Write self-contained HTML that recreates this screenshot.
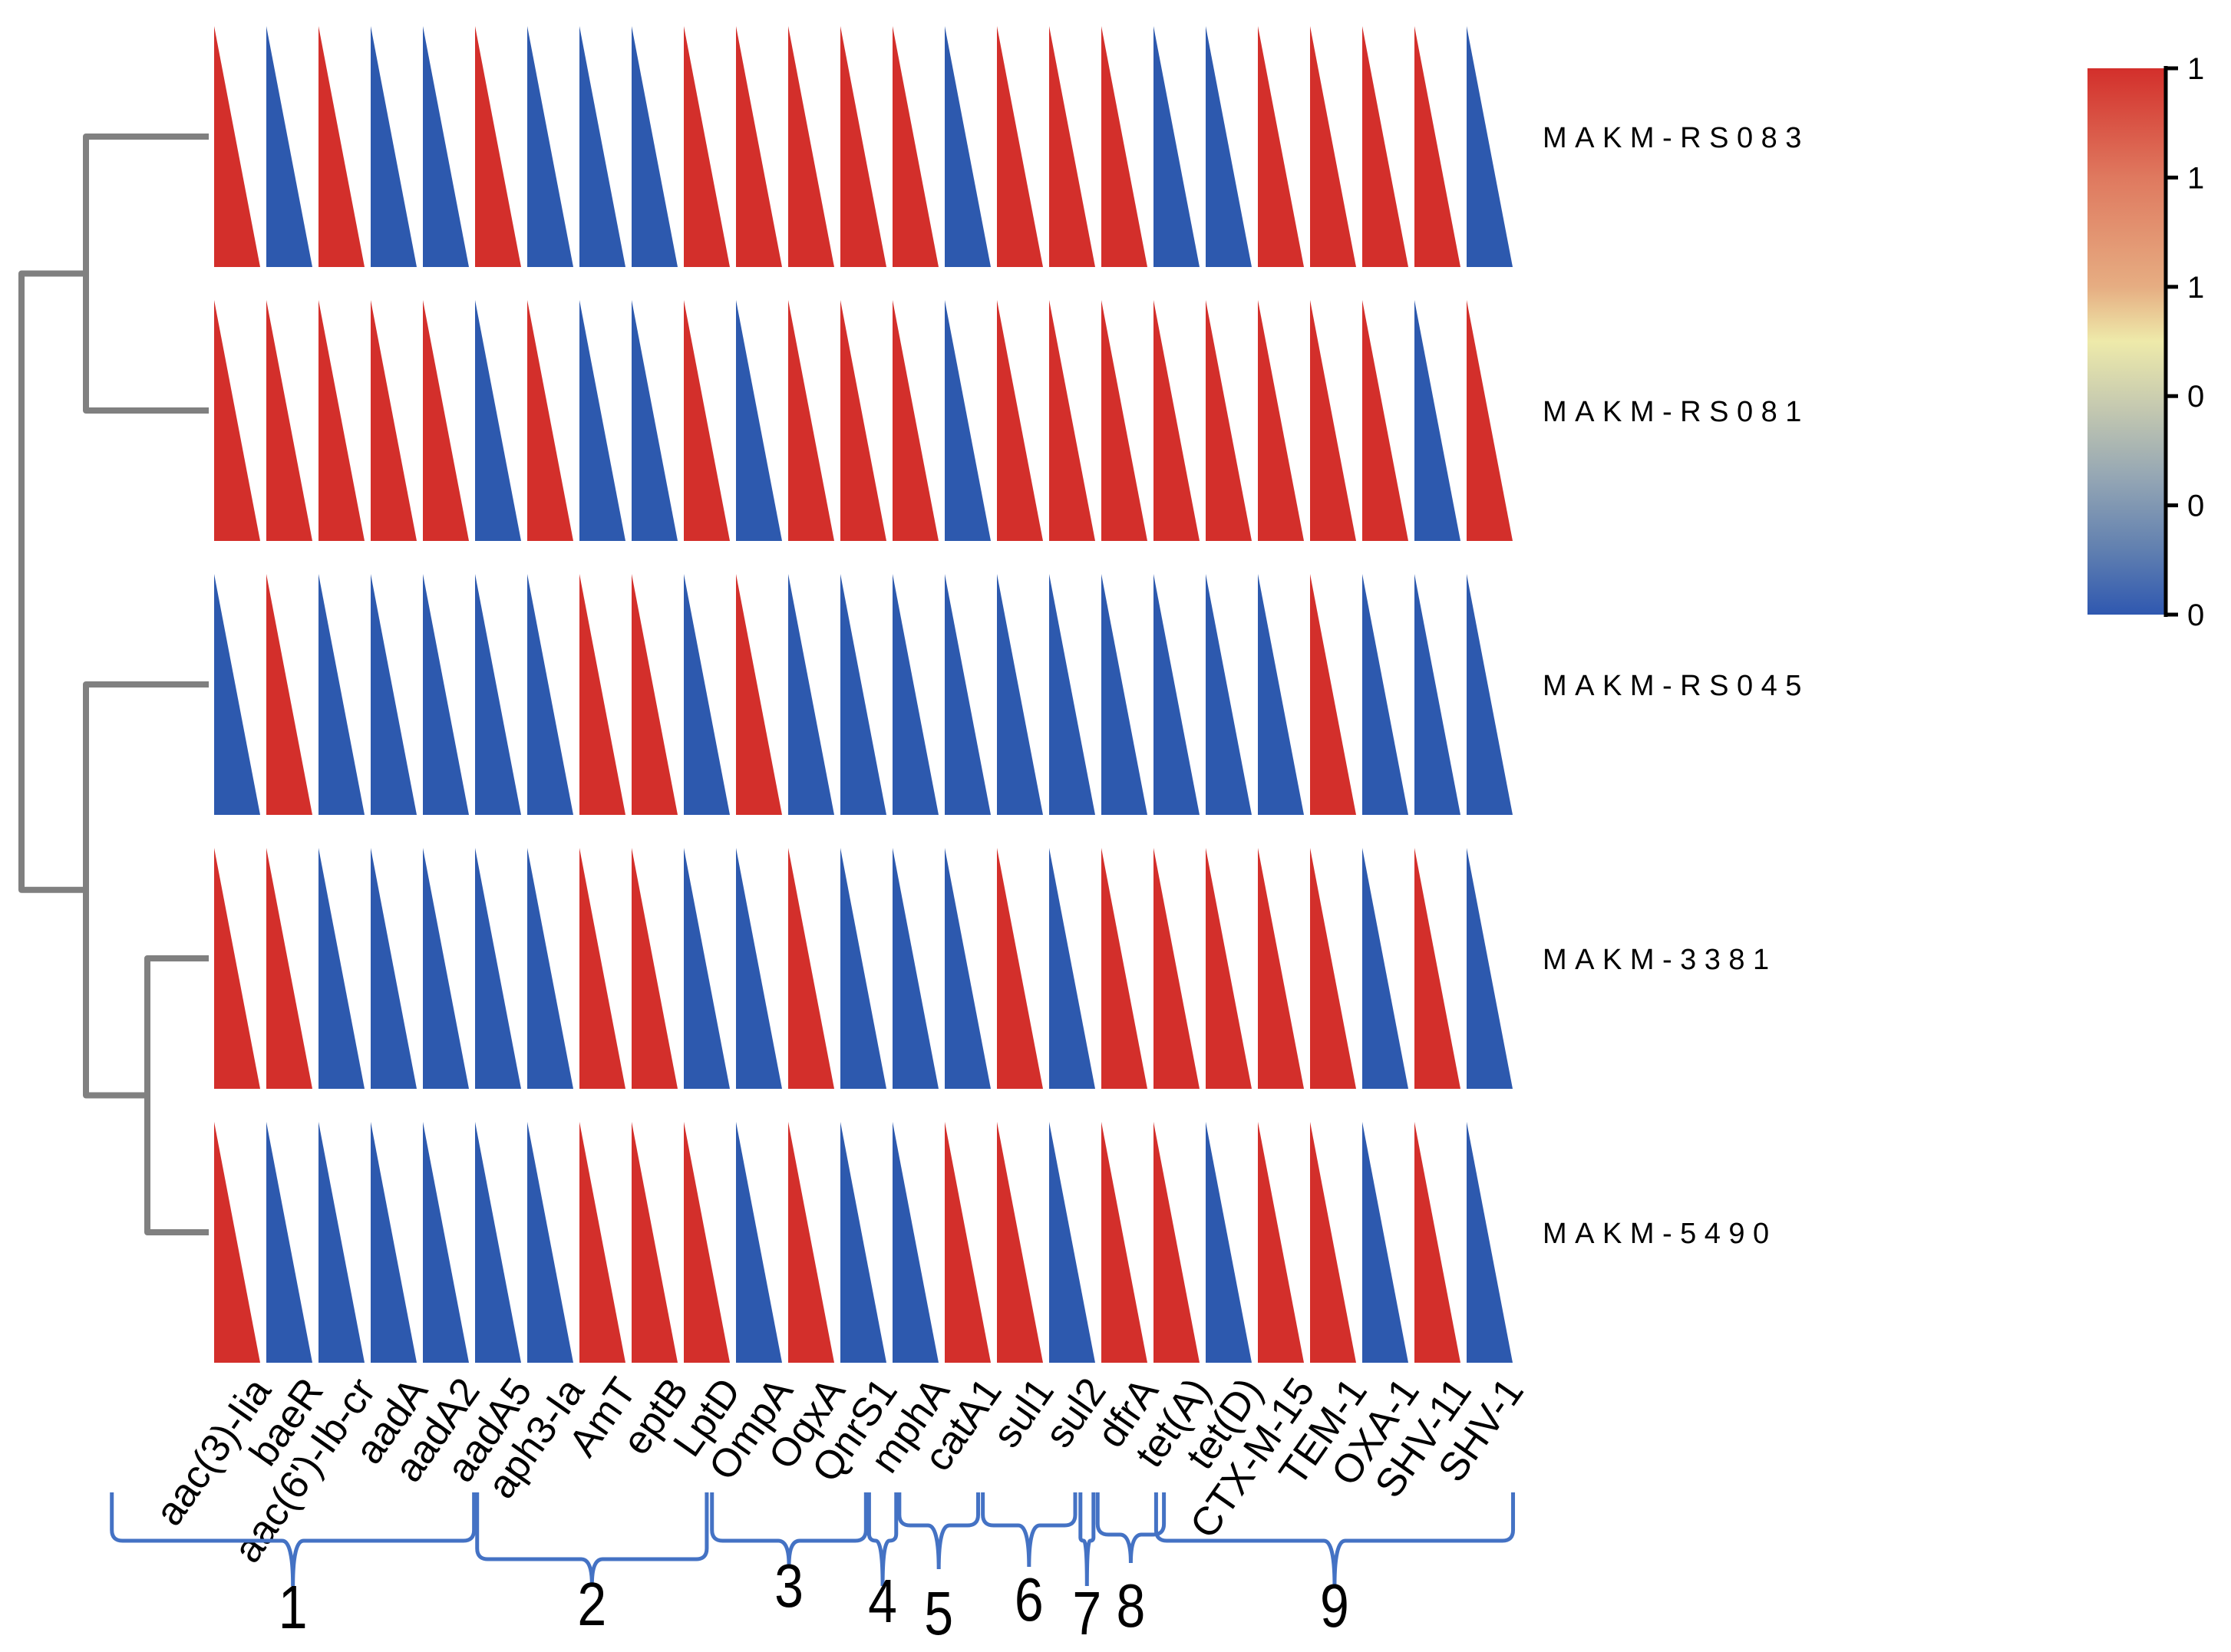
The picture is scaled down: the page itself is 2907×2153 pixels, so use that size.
<!DOCTYPE html>
<html><head><meta charset="utf-8"><style>
html,body{margin:0;padding:0;background:#fff;}
svg{display:block;}
text{font-family:"Liberation Sans",sans-serif;}
</style></head><body>
<svg id="chart" width="2907" height="2153" viewBox="0 0 2907 2153" xmlns="http://www.w3.org/2000/svg">
<defs>
<linearGradient id="cbar" x1="0" y1="0" x2="0" y2="1">
<stop offset="0" stop-color="#d32f2b"/>
<stop offset="0.2" stop-color="#df795f"/>
<stop offset="0.4" stop-color="#e6ad82"/>
<stop offset="0.5" stop-color="#eeeaaa"/>
<stop offset="0.62" stop-color="#c5c9b0"/>
<stop offset="0.75" stop-color="#94a6b4"/>
<stop offset="0.88" stop-color="#6180b0"/>
<stop offset="1" stop-color="#2f58b0"/>
</linearGradient>
</defs>
<g id="dendro" stroke="#808080" stroke-width="8" fill="none" stroke-linejoin="round"></g>
<g id="cells"></g>
<g id="rowlabels"></g>
<g id="collabels"></g>
<g id="braces"></g>
<g id="legend">
<rect x="2720" y="89" width="102" height="712" fill="url(#cbar)"/>
<line x1="2822" y1="86" x2="2822" y2="804" stroke="#000" stroke-width="5"/>
</g>
</svg>
<script>
const genes = ["aac(3)-Iia","baeR","aac(6')-Ib-cr","aadA","aadA2","aadA5","aph3-Ia","AmT","eptB","LptD","OmpA","OqxA","QnrS1","mphA","catA1","sul1","sul2","dfrA","tet(A)","tet(D)","CTX-M-15","TEM-1","OXA-1","SHV-11","SHV-1"];
const samples = ["MAKM-RS083","MAKM-RS081","MAKM-RS045","MAKM-3381","MAKM-5490"];
const rowRS083 = [1,0,1,0,0,1,0,0,0,1,1,1,1,1,0,1,1,1,0,0,1,1,1,1,0];
const rowRS081 = [1,1,1,1,1,0,1,0,0,1,0,1,1,1,0,1,1,1,1,1,1,1,1,0,1];
const rowRS045 = [0,1,0,0,0,0,0,1,1,0,1,0,0,0,0,0,0,0,0,0,0,1,0,0,0];
const row3381 = [1,1,0,0,0,0,0,1,1,0,0,1,0,0,0,1,0,1,1,1,1,1,0,1,0];
const row5490 = [1,0,0,0,0,0,0,1,1,1,0,1,0,0,1,1,0,1,1,0,1,1,0,1,0];
const groupLabels = ["1","2","3","4","5","6","7","8","9"];
// group extents in column units (label-space, as drawn in the figure)
const groupStart = [-1.96,5.04,9.54,12.55,13.13,14.73,16.6,16.93,18.05];
const groupEnd = [4.98,9.44,12.49,13.07,14.64,16.5,16.85,18.2,24.89];
const legendTicks = ["1","1","1","0","0","0"];

const NS="http://www.w3.org/2000/svg";
function mk(tag,attrs,parent){const e=document.createElementNS(NS,tag);for(const k in attrs)e.setAttribute(k,attrs[k]);parent.appendChild(e);return e;}
const rows=[rowRS083,rowRS081,rowRS045,row3381,row5490];
const x0=279, pitch=68.0, cw=60, y0=34, rpitch=357, rh=314;
const colX=i=>x0+i*pitch;
const rowY=j=>y0+j*rpitch;
const colorOf=v=>v>=0.5?"#d32f2b":"#2d59ae";

const cells=document.getElementById('cells');
rows.forEach((r,j)=>{r.forEach((v,i)=>{
  const x=colX(i), y=rowY(j);
  const p=mk('polygon',{points:`${x},${y} ${x},${y+rh} ${x+cw},${y+rh}`,fill:colorOf(v)},cells);
  
  
});});

const rl=document.getElementById('rowlabels');
samples.forEach((s,j)=>{
  const t=mk('text',{x:2010,y:rowY(j)+rh/2+1,'font-size':38,'letter-spacing':10.5,fill:'#000'},rl);
  t.textContent=s;
  
  
});

const cl=document.getElementById('collabels');
genes.forEach((g,i)=>{
  const ex=colX(i)+cw/2+46, ey=1812;
  const t=mk('text',{x:ex,y:ey,'font-size':52,'text-anchor':'end',transform:`rotate(-55 ${ex} ${ey})`,fill:'#000'},cl);
  t.textContent=g;
  
  
});

// dendrogram
const d=document.getElementById('dendro');
const leafY=j=>rowY(j)+rh/2-13;
const xr=28, xa=112, xb=192, xl=272;
const yA=(leafY(0)+leafY(1))/2, yC=(leafY(3)+leafY(4))/2, yB=(leafY(2)+yC)/2;
const dp=mk('path',{d:`M${xl},${leafY(0)} H${xa} V${leafY(1)} H${xl} M${xa},${yA} H${xr} V${yB} H${xa} M${xl},${leafY(2)} H${xa} V${yC} H${xb} M${xl},${leafY(3)} H${xb} V${leafY(4)} H${xl}`},d);



// braces
const bg=document.getElementById('braces');
const lineY=[2008,2032,2008,2008,1988,1988,2008,2000,2008];
const tipY=[2067,2065,2040,2067,2045,2042,2067,2037,2067];
const numY=[2122,2118,2094,2114,2130,2112,2130,2120,2120];
groupLabels.forEach((lab,k)=>{
  const x1=colX(groupStart[k]), x2=colX(groupEnd[k]), tip=(x1+x2)/2, top=1945, ly=lineY[k];
  const r=Math.min(14,(x2-x1)/4);
  const p=mk('path',{d:`M${x1},${top} L${x1},${ly-r} Q${x1},${ly} ${x1+r},${ly} L${tip-r},${ly} Q${tip},${ly} ${tip},${tipY[k]} Q${tip},${ly} ${tip+r},${ly} L${x2-r},${ly} Q${x2},${ly} ${x2},${ly-r} L${x2},${top}`,fill:'none',stroke:'#4472c4','stroke-width':5},bg);
  
  
  const t=mk('text',{x:tip,y:numY[k],'font-size':80,'text-anchor':'middle',fill:'#000',transform:`translate(${tip*0.15},0) scale(0.85,1)`},bg);
  t.textContent=lab;
  
  
});

// legend ticks
const lg=document.getElementById('legend');
legendTicks.forEach((lab,k)=>{
  const y=89+k*(712/(legendTicks.length-1));
  const l=mk('line',{x1:2822,y1:y,x2:2838,y2:y,stroke:'#000','stroke-width':5},lg);
  
  
  const t=mk('text',{x:2850,y:y+14,'font-size':40,fill:'#000'},lg);
  t.textContent=lab;
  
  
});
</script>
</body></html>
